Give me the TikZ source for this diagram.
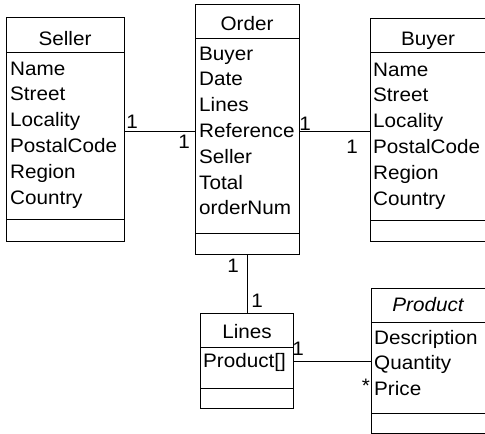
\documentclass[tikz,border=0pt]{standalone}
\usepackage{fontspec}
\setmainfont{Liberation Sans}[FakeStretch=1.06]
\begin{document}
\begin{tikzpicture}[x=1pt,y=1pt,
  cls/.style={draw, line width=0.9pt, rectangle, inner sep=0pt, anchor=north west},
  sep/.style={line width=0.9pt},
  conn/.style={line width=0.9pt},
  txt/.style={inner sep=0pt, anchor=base west, font=\fontsize{19.5}{22}\selectfont},
  ttl/.style={inner sep=0pt, anchor=base, font=\fontsize{19.5}{22}\selectfont},
  mult/.style={inner sep=0pt, anchor=base, font=\fontsize{19.5}{22}\selectfont}]
\useasboundingbox (0,0) rectangle (485,-434);
\begin{scope}
\clip (0,0) rectangle (485,-434);
% Seller
\node[cls, minimum width=118, minimum height=224] (seller) at (6,-17) {};
\draw[sep] (seller.west |- 0,-52) -- (seller.east |- 0,-52);
\draw[sep] (seller.west |- 0,-219) -- (seller.east |- 0,-219);
\node[ttl] (sellerT) at (65,-45) {Seller};
\foreach \t [count=\i] in {Name,Street,Locality,PostalCode,Region,Country}
  \node[txt] (seller-\i) at (10,{-75-25.8*(\i-1)}) {\t};
% Order
\node[cls, minimum width=104, minimum height=250] (order) at (195,-4) {};
\draw[sep] (order.west |- 0,-38) -- (order.east |- 0,-38);
\draw[sep] (order.west |- 0,-233) -- (order.east |- 0,-233);
\node[ttl] (orderT) at (247,-30) {Order};
\foreach \t [count=\i] in {Buyer,Date,Lines,Reference,Seller,Total,orderNum}
  \node[txt] (order-\i) at (199,{-60-25.8*(\i-1)}) {\t};
% Buyer
\node[cls, minimum width=125, minimum height=223] (buyer) at (370,-18) {};
\draw[sep] (buyer.west |- 0,-52) -- (buyer.east |- 0,-52);
\draw[sep] (buyer.west |- 0,-220) -- (buyer.east |- 0,-220);
\node[ttl] (buyerT) at (428,-45) {Buyer};
\foreach \t [count=\i] in {Name,Street,Locality,PostalCode,Region,Country}
  \node[txt] (buyer-\i) at (373,{-76-25.8*(\i-1)}) {\t};
% Lines
\node[cls, minimum width=93, minimum height=95] (lines) at (200,-313) {};
\draw[sep] (lines.west |- 0,-347) -- (lines.east |- 0,-347);
\draw[sep] (lines.west |- 0,-388) -- (lines.east |- 0,-388);
\node[ttl] (linesT) at (247,-338) {Lines};
\node[txt] (lines-1) at (203,-367) {Product[]};
% Product
\node[cls, minimum width=125, minimum height=145] (product) at (371,-288) {};
\draw[sep] (product.west |- 0,-322) -- (product.east |- 0,-322);
\draw[sep] (product.west |- 0,-413) -- (product.east |- 0,-413);
\node[ttl] (productT) at (428,-311) {\itshape Product};
\foreach \t [count=\i] in {Description,Quantity,Price}
  \node[txt] (product-\i) at (374,{-344-25.8*(\i-1)}) {\t};
\end{scope}
% connectors
\draw[conn] (seller.east |- 0,-131) -- (order.west |- 0,-131);
\draw[conn] (order.east |- 0,-131) -- (buyer.west |- 0,-131);
\draw[conn] (order.south -| 247,0) -- (lines.north -| 247,0);
\draw[conn] (lines.east |- 0,-361) -- (product.west |- 0,-361);
% multiplicities
\node[mult] (m1) at (132,-128) {1};
\node[mult] (m2) at (184,-148) {1};
\node[mult] (m3) at (305,-130) {1};
\node[mult] (m4) at (352,-153) {1};
\node[mult] (m5) at (233,-272) {1};
\node[mult] (m6) at (257,-307) {1};
\node[mult] (m7) at (298,-355) {1};
\node[mult] (m8) at (366,-392) {*};
\end{tikzpicture}
\end{document}
